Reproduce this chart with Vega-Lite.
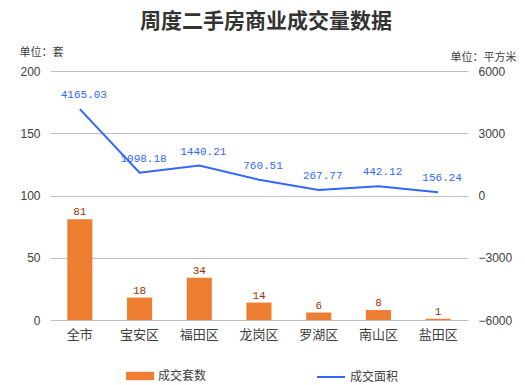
{
  "$schema": "https://vega.github.io/schema/vega-lite/v6.json",
  "width": 418,
  "height": 249,
  "autosize": "none",
  "padding": {"left": 50, "top": 71, "right": 57, "bottom": 65},
  "background": "white",
  "title": {"text": "周度二手房商业成交量数据", "font": "Noto Sans CJK SC", "fontSize": 21, "fontWeight": "bold", "color": "#333333", "anchor": "middle", "offset": 14, "dx": 7},
  "config": {"view": {"stroke": null}},
  "data": {"values": [
    {"区域": "全市", "成交套数": 81, "成交面积": 4165.03},
    {"区域": "宝安区", "成交套数": 18, "成交面积": 1098.18},
    {"区域": "福田区", "成交套数": 34, "成交面积": 1440.21},
    {"区域": "龙岗区", "成交套数": 14, "成交面积": 760.51},
    {"区域": "罗湖区", "成交套数": 6, "成交面积": 267.77},
    {"区域": "南山区", "成交套数": 8, "成交面积": 442.12},
    {"区域": "盐田区", "成交套数": 1, "成交面积": 156.24}
  ]},
  "encoding": {
    "x": {"field": "区域", "type": "nominal", "sort": null, "title": null,
      "scale": {"paddingInner": 0.58, "paddingOuter": 0.29},
      "axis": {"labelAngle": 0, "domain": false, "ticks": false, "labelFont": "Noto Sans CJK SC", "labelFontSize": 13, "labelColor": "#404040", "labelPadding": 8}}
  },
  "layer": [
    {
      "encoding": {
        "y": {"field": "成交套数", "type": "quantitative", "scale": {"domain": [0, 200]},
          "axis": {"orient": "left", "values": [0, 50, 100, 150, 200], "grid": true, "gridColor": "#bfbfbf", "domain": false, "ticks": false, "labelFont": "Liberation Sans", "labelFontSize": 12, "labelColor": "#404040", "labelPadding": 10,
            "title": "单位：套", "titleAngle": 0, "titleX": -9, "titleY": -19, "titleAlign": "center", "titleBaseline": "middle", "titleFont": "Noto Sans CJK SC", "titleFontSize": 11, "titleFontWeight": "normal", "titleColor": "#404040"}}
      },
      "layer": [
        {"mark": {"type": "bar", "color": "#ED7D31"},
         "encoding": {"fill": {"datum": "成交套数", "type": "nominal", "scale": {"range": ["#ED7D31"]},
           "legend": {"title": null, "orient": "none", "legendX": 76, "legendY": 291, "symbolType": "M-1,-0.3H1V0.3H-1Z", "symbolSize": 784, "labelFont": "Noto Sans CJK SC", "labelFontSize": 12, "labelColor": "#404040", "symbolStrokeWidth": 0}}}},
        {"mark": {"type": "text", "baseline": "bottom", "dy": -2, "font": "Liberation Mono", "fontSize": 11, "color": "#993300"},
         "encoding": {"text": {"field": "成交套数", "type": "quantitative"}}}
      ]
    },
    {
      "encoding": {
        "y": {"field": "成交面积", "type": "quantitative", "scale": {"domain": [-6000, 6000]},
          "axis": {"orient": "right", "values": [-6000, -3000, 0, 3000, 6000], "format": "d", "grid": false, "domain": false, "ticks": false, "labelFont": "Liberation Sans", "labelFontSize": 12, "labelColor": "#404040", "labelPadding": 10,
            "title": "单位：平方米", "titleAngle": 0, "titleX": 15, "titleY": -14, "titleAlign": "center", "titleBaseline": "middle", "titleFont": "Noto Sans CJK SC", "titleFontSize": 11, "titleFontWeight": "normal", "titleColor": "#404040"}}
      },
      "layer": [
        {"mark": {"type": "line", "interpolate": "linear", "strokeWidth": 2},
         "encoding": {"stroke": {"datum": "成交面积", "type": "nominal", "scale": {"range": ["#3366FF"]},
           "legend": {"title": null, "orient": "none", "legendX": 266, "legendY": 291, "symbolType": "stroke", "symbolSize": 784, "symbolStrokeWidth": 2, "labelFont": "Noto Sans CJK SC", "labelFontSize": 12, "labelColor": "#404040"}}}},
        {"mark": {"type": "text", "baseline": "bottom", "dy": -9, "dx": 4, "font": "Liberation Mono", "fontSize": 11, "color": "#3366FF"},
         "encoding": {"text": {"field": "成交面积", "type": "quantitative", "format": ".2f"}}}
      ]
    }
  ],
  "resolve": {"scale": {"y": "independent"}}
}
